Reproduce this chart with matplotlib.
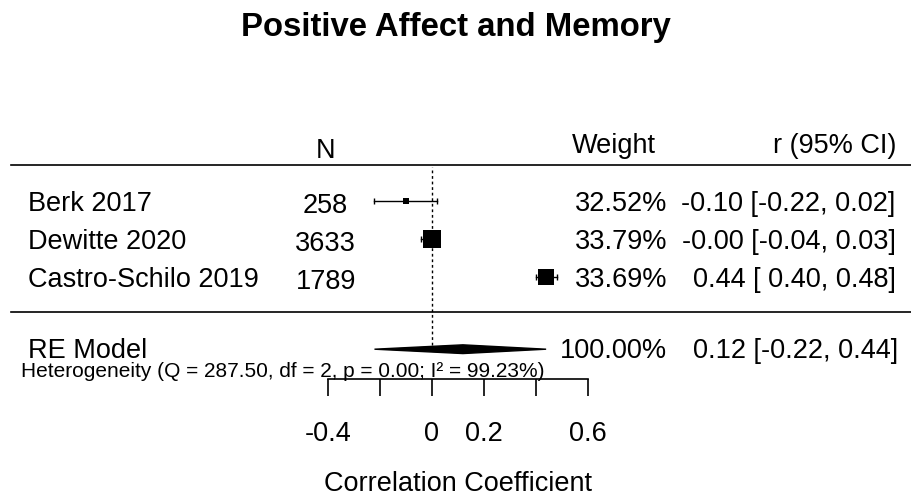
import numpy as np
import matplotlib.pyplot as plt

plt.rcParams['font.family'] = ['Liberation Sans', 'DejaVu Sans']

# data
studies = ["Berk 2017", "Dewitte 2020", "Castro-Schilo 2019"]
n_sizes = [258, 3633, 1789]
r_est = [-0.10, -0.00, 0.44]
ci_lo = [-0.22, -0.04, 0.40]
ci_hi = [0.02, 0.03, 0.48]
weights = [32.52, 33.79, 33.69]
re_est, re_lo, re_hi = 0.12, -0.22, 0.44
het_q, het_df, het_p, het_i2 = 287.50, 2, 0.00, 99.23
ticks = [-0.4, -0.2, 0.0, 0.2, 0.4, 0.6]
tick_labels = ["-0.4", "", "0", "0.2", "", "0.6"]

fig = plt.figure(figsize=(9.12, 4.96), dpi=100)
ax = fig.add_axes([0, 0, 1, 1])
ax.set_xlim(-1.660, 1.847)
ax.set_ylim(-4.763, 8.289)
ax.axis('off')

fs = 19.5
base = 0.26  # baseline offset below row centre
rows = np.arange(len(studies), 0, -1)

x_lab = -1.553
x_n = -0.408
x_w = 0.905
x_ci = 1.784

# title
fig.text(0.5, 1 - 36 / 496, "Positive Affect and Memory", ha='center', va='baseline',
         fontsize=23.7, fontweight='bold')

# headers
ax.text(x_n, 4.12, "N", ha='center', va='baseline', fontsize=fs)
ax.text(0.701, 4.26, "Weight", ha='center', va='baseline', fontsize=fs)
ax.text(x_ci + 0.002, 4.26, "r (95% CI)", ha='right', va='baseline', fontsize=fs)

# horizontal rules
ax.axhline(3.95, xmin=0.012, xmax=1, color='black', lw=1.2)
ax.axhline(0.08, xmin=0.012, xmax=1, color='black', lw=1.2)

# reference line
ax.plot([0, 0], [-0.8, 3.9], color='black', lw=1, ls=(0, (2, 2)))

# study rows
prec = 1 / (np.array(ci_hi) - np.array(ci_lo))
psize = 0.5 + (prec - prec.min()) / (prec.max() - prec.min())
for i, y in enumerate(rows):
    ax.text(x_lab, y - base, studies[i], ha='left', va='baseline', fontsize=fs)
    ax.text(x_n, y - base - 0.06, str(n_sizes[i]), ha='center', va='baseline', fontsize=fs)
    ax.text(x_w, y - base, f"{weights[i]:.2f}%", ha='right', va='baseline', fontsize=fs)
    ax.text(x_ci, y - base, f"{r_est[i]:.2f} [{ci_lo[i]:5.2f}, {ci_hi[i]:.2f}]",
            ha='right', va='baseline', fontsize=fs)
    ax.plot([ci_lo[i], ci_hi[i]], [y, y], color='black', lw=1)
    ax.vlines([ci_lo[i], ci_hi[i]], y - 0.07, y + 0.07, color='black', lw=1)
    ax.plot(r_est[i], y, marker='s', color='black', ms=psize[i] * 12.6 * 0.72, mew=0)

# summary row
y_re = -0.90
ax.text(x_lab, -1.13, "RE Model", ha='left', va='baseline', fontsize=fs)
ax.fill([re_lo, re_est, re_hi, re_est], [y_re, y_re + 0.115, y_re, y_re - 0.115],
        color='black', lw=1)
ax.text(x_w, -1.14, "100.00%", ha='right', va='baseline', fontsize=fs)
ax.text(x_ci + 0.01, -1.14, f"{re_est:.2f} [{re_lo:5.2f}, {re_hi:.2f}]",
        ha='right', va='baseline', fontsize=fs)
ax.text(-1.581, -1.64,
        f"Heterogeneity (Q = {het_q:.2f}, df = {het_df}, p = {het_p:.2f}; I\u00b2 = {het_i2:.2f}%)",
        ha='left', va='baseline', fontsize=15)

# x axis
ax.plot([ticks[0], ticks[-1]], [-1.69, -1.69], color='black', lw=1.2)
ax.vlines(ticks, -2.13, -1.69, color='black', lw=1.2)
for t, lab in zip(ticks, tick_labels):
    ax.text(t, -3.31, lab, ha='center', va='baseline', fontsize=fs)
ax.text(0.1, -4.62, "Correlation Coefficient", ha='center', va='baseline', fontsize=fs)

fig.savefig("out.png", dpi=100)
